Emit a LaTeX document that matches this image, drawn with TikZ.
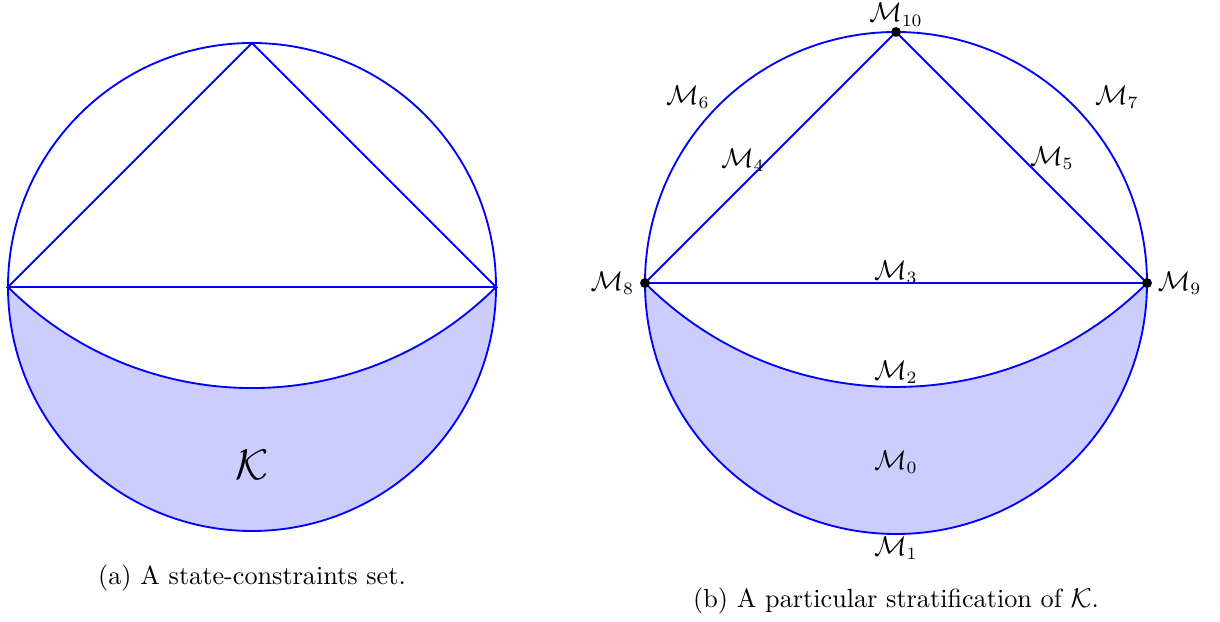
\documentclass[tikz,border=0pt]{standalone}
\usepackage{amsmath}
\usepackage{amssymb}
\usepackage{tikz}
\usetikzlibrary{calc,positioning}
\definecolor{setblue}{rgb}{0.80, 0.80, 1.00}
\tikzset{
  borde/.style={
    draw=blue,
    line width=0.75pt
  },
  relleno/.style={
    fill=setblue,
    draw=none
  },
  punto/.style={
    circle,
    fill=black,
    inner sep=0pt,
    minimum size=4pt
  },
  etiqueta/.style={
    inner sep=2pt,
    font=\fontsize{10.6}{13}\selectfont
  },
  leyenda/.style={
    align=center,
    font=\fontsize{10.6}{13}\selectfont
  }
}

\begin{document}
\begin{tikzpicture}[x=0.014225cm,y=0.014225cm]
\useasboundingbox (0,0) rectangle (1220,622);
% (a) conjunto de restricciones
\coordinate (ca) at (252,335);
\coordinate (ia) at (8,335);
\coordinate (da) at (496,335);
\coordinate (sa) at (252,579);
\path[relleno] (ia) arc[start angle=225,end angle=315,radius=345.07]
  arc[start angle=0,end angle=-180,radius=244] -- cycle;
\draw[borde] (ca) circle[radius=244];
\draw[borde] (ia) -- (da) -- (sa) -- cycle;
\draw[borde] (ia) arc[start angle=225,end angle=315,radius=345.07];
\node[font=\LARGE] (ka) at (252,157) {$\mathcal{K}$};
\node[leyenda] (capa) at (252,44) {(a) A state-constraints set.};
% (b) estratificacion
\coordinate (cb) at (896,339);
\coordinate (ib) at (645,339);
\coordinate (db) at (1147,339);
\coordinate (sb) at (896,590);
\path[relleno] (ib) arc[start angle=225,end angle=315,radius=354.97]
  arc[start angle=0,end angle=-180,radius=251] -- cycle;
\draw[borde] (cb) circle[radius=251];
\draw[borde] (ib) -- (db) -- (sb) -- cycle;
\draw[borde] (ib) arc[start angle=225,end angle=315,radius=354.97];
\node[punto] (m8) at (ib) {};
\node[punto] (m9) at (db) {};
\node[punto] (m10) at (sb) {};
\node[etiqueta, left=0pt of m8] {$\mathcal{M}_8$};
\node[etiqueta, right=0pt of m9] {$\mathcal{M}_9$};
\node[etiqueta, inner sep=0pt, above=0pt of m10] {$\mathcal{M}_{10}$};
\node[etiqueta] (m3) at (896,350) {$\mathcal{M}_3$};
\node[etiqueta] (m2) at (896,250) {$\mathcal{M}_2$};
\node[etiqueta] (m0) at (896,160) {$\mathcal{M}_0$};
\node[etiqueta] (m1) at (896,74) {$\mathcal{M}_1$};
\node[etiqueta] (m6) at (688,525) {$\mathcal{M}_6$};
\node[etiqueta] (m7) at (1117,525) {$\mathcal{M}_7$};
\node[etiqueta] (m4) at (743,462) {$\mathcal{M}_4$};
\node[etiqueta] (m5) at (1052,464) {$\mathcal{M}_5$};
\node[leyenda] (capb) at (896,21) {(b) A particular stratification of $\mathcal{K}$.};
\end{tikzpicture}
\end{document}
